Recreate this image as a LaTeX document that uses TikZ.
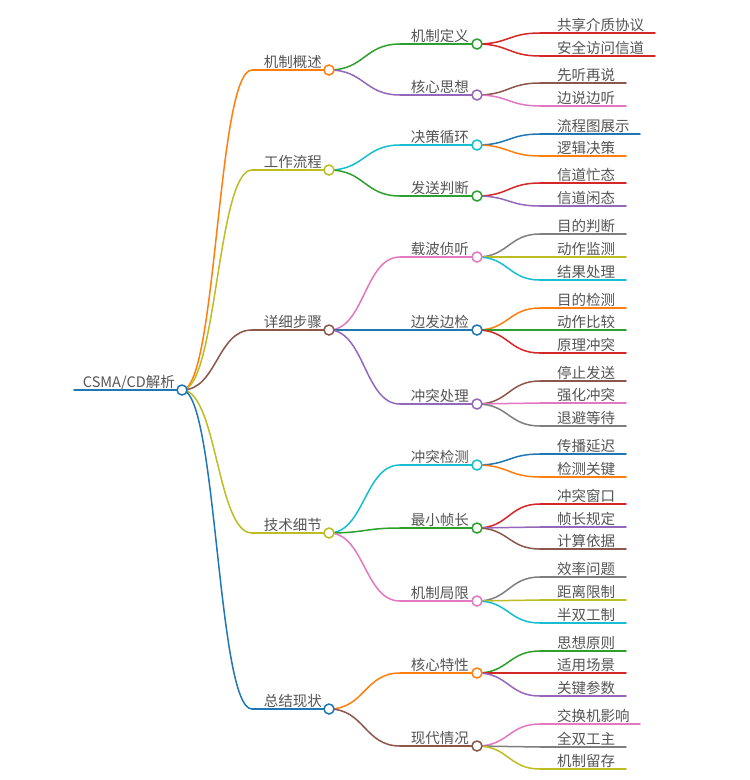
\documentclass[tikz,border=0pt]{standalone}
\usepackage{fontspec}
\setmainfont{Noto Sans CJK SC}
\usetikzlibrary{calc}
\pgfdeclarelayer{bg}
\pgfdeclarelayer{paper}
\pgfsetlayers{paper,bg,main}
\definecolor{cblue}{HTML}{1F77B4}
\definecolor{corange}{HTML}{FF7F0E}
\definecolor{cgreen}{HTML}{2CA02C}
\definecolor{cred}{HTML}{D62728}
\definecolor{cpurple}{HTML}{9467BD}
\definecolor{cbrown}{HTML}{8C564B}
\definecolor{cpink}{HTML}{E377C2}
\definecolor{cgray}{HTML}{7F7F7F}
\definecolor{colive}{HTML}{BCBD22}
\definecolor{ccyan}{HTML}{17BECF}
\definecolor{txt}{HTML}{555555}
\tikzset{
  link/.style={line width=1.5pt, line cap=round},
  bubble/.style={circle, draw=#1, fill=white, line width=1.5pt, minimum size=10pt, inner sep=0pt},
  lbl/.style={text=txt, font=\fontsize{14.5}{17}\selectfont, inner sep=0pt},
}
\newcommand\lnk[3]{\begin{pgfonlayer}{bg}\draw[link,#3] let \p1=(#1.center),\p2=(#2.center) in (\p1) .. controls ({0.5*\x1+0.5*\x2},\y1) and ({0.5*\x1+0.5*\x2},\y2) .. (\p2);\end{pgfonlayer}}
\newcommand\lone[4]{%
  \coordinate (#1) at (329,#2); \coordinate (#1s) at (252,#2);
  \lnk{R}{#1s}{#3}
  \begin{pgfonlayer}{bg}\draw[link,#3] (#1s) -- (#1.center);\end{pgfonlayer}
  \node[lbl,anchor=base east] (#1t) at (322,#2-3) {#4};
  \node[bubble=#3] (#1c) at (#1) {};}
\newcommand\ltwo[5]{%
  \coordinate (#2) at (477,#3); \coordinate (#2s) at (400,#3);
  \lnk{#1}{#2s}{#4}
  \begin{pgfonlayer}{bg}\draw[link,#4] (#2s) -- (#2.center);\end{pgfonlayer}
  \node[lbl,anchor=base east] (#2t) at (469,#3-3) {#5};
  \node[bubble=#4] (#2c) at (#2) {};}
\newcommand\leaf[6]{%
  \coordinate (#2s) at (540,#3); \coordinate (#2e) at (#4,#3);
  \lnk{#1}{#2s}{#5}
  \begin{pgfonlayer}{bg}\draw[link,#5] (#2s) -- (#2e);\end{pgfonlayer}
  \node[lbl,anchor=base west] (#2t) at (557,#3-3) {#6};}
\begin{document}
\begin{tikzpicture}[x=1pt,y=-1pt]
\begin{pgfonlayer}{paper}\fill[white] (0,0) rectangle (750,780);\end{pgfonlayer}
\useasboundingbox (0,0) rectangle (750,780);
\coordinate (R) at (182,390);
\coordinate (R0) at (74,390);
\begin{pgfonlayer}{bg}\draw[link,cblue] (R0) -- (R);\end{pgfonlayer}
\node[lbl,anchor=base east] (Rt) at (175,387) {CSMA/CD解析};
% level 1
\lone{A}{70}{corange}{机制概述}
\lone{B}{170}{colive}{工作流程}
\lone{C}{330}{cbrown}{详细步骤}
\lone{D}{533}{colive}{技术细节}
\lone{E}{709}{cblue}{总结现状}
\node[bubble=cblue] (Rc) at (R) {};
% level 2
\ltwo{A}{A1}{44}{cgreen}{机制定义}
\ltwo{A}{A2}{95}{cpurple}{核心思想}
\ltwo{B}{B1}{145}{ccyan}{决策循环}
\ltwo{B}{B2}{196}{cgreen}{发送判断}
\ltwo{C}{C1}{257}{cpink}{载波侦听}
\ltwo{C}{C2}{330}{cblue}{边发边检}
\ltwo{C}{C3}{404}{cpurple}{冲突处理}
\ltwo{D}{D1}{465}{ccyan}{冲突检测}
\ltwo{D}{D2}{528}{cgreen}{最小帧长}
\ltwo{D}{D3}{601}{cpink}{机制局限}
\ltwo{E}{E1}{673}{corange}{核心特性}
\ltwo{E}{E2}{746}{cbrown}{现代情况}
% leaves
\leaf{A1}{A1a}{33}{655}{cred}{共享介质协议}
\leaf{A1}{A1b}{56}{655}{cred}{安全访问信道}
\leaf{A2}{A2a}{83}{626}{cbrown}{先听再说}
\leaf{A2}{A2b}{106}{626}{cpink}{边说边听}
\leaf{B1}{B1a}{134}{640}{cblue}{流程图展示}
\leaf{B1}{B1b}{156}{626}{corange}{逻辑决策}
\leaf{B2}{B2a}{183}{626}{cred}{信道忙态}
\leaf{B2}{B2b}{206}{626}{cpurple}{信道闲态}
\leaf{C1}{C1a}{234}{626}{cgray}{目的判断}
\leaf{C1}{C1b}{257}{626}{colive}{动作监测}
\leaf{C1}{C1c}{280}{626}{ccyan}{结果处理}
\leaf{C2}{C2a}{308}{626}{corange}{目的检测}
\leaf{C2}{C2b}{330}{626}{cgreen}{动作比较}
\leaf{C2}{C2c}{353}{626}{cred}{原理冲突}
\leaf{C3}{C3a}{381}{626}{cbrown}{停止发送}
\leaf{C3}{C3b}{403}{626}{cpink}{强化冲突}
\leaf{C3}{C3c}{426}{626}{cgray}{退避等待}
\leaf{D1}{D1a}{454}{626}{cblue}{传播延迟}
\leaf{D1}{D1b}{477}{626}{corange}{检测关键}
\leaf{D2}{D2a}{504}{626}{cred}{冲突窗口}
\leaf{D2}{D2b}{527}{626}{cpurple}{帧长规定}
\leaf{D2}{D2c}{549}{626}{cbrown}{计算依据}
\leaf{D3}{D3a}{577}{626}{cgray}{效率问题}
\leaf{D3}{D3b}{600}{626}{colive}{距离限制}
\leaf{D3}{D3c}{623}{626}{ccyan}{半双工制}
\leaf{E1}{E1a}{651}{626}{cgreen}{思想原则}
\leaf{E1}{E1b}{673}{626}{cred}{适用场景}
\leaf{E1}{E1c}{696}{626}{cpurple}{关键参数}
\leaf{E2}{E2a}{724}{640}{cpink}{交换机影响}
\leaf{E2}{E2b}{747}{626}{cgray}{全双工主}
\leaf{E2}{E2c}{769}{626}{colive}{机制留存}
\end{tikzpicture}
\end{document}
